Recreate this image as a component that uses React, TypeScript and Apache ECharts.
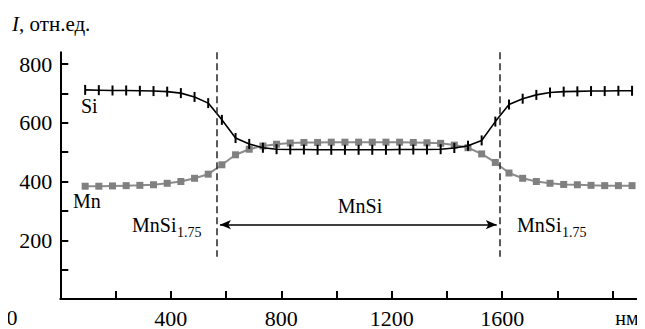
import { useEffect, useRef } from 'react';
import * as echarts from 'echarts';

// depth positions, nm
const positionsNm = [
  90, 139.5, 189, 238.5, 288, 337.5, 387, 436.5, 486, 535.5,
  585, 634.5, 684, 733.5, 783, 832.5, 882, 931.5, 981, 1030.5,
  1080, 1129.5, 1179, 1228.5, 1278, 1327.5, 1377, 1426.5, 1476, 1525.5,
  1575, 1624.5, 1674, 1723.5, 1773, 1822.5, 1872, 1921.5, 1971, 2020.5, 2070,
];
// intensity, rel. units
const siValues = [
  712, 711, 710, 710, 709, 708, 706, 701, 688, 667,
  610, 548, 528, 515, 510, 509, 509, 508, 508, 508,
  508, 508, 508, 509, 509, 509, 510, 514, 522, 540,
  604, 662, 682, 695, 703, 706, 707, 708, 708, 709, 709,
];
const mnValues = [
  384, 384, 385, 386, 387, 389, 394, 400, 411, 425,
  457, 491, 510, 521, 527, 531, 533, 533, 534, 534,
  534, 534, 534, 534, 533, 532, 530, 524, 515, 494,
  465, 429, 411, 400, 394, 390, 389, 387, 386, 386, 386,
];
const yTickValues = [100, 200, 300, 400, 500, 600, 700, 800];
const yLabelValues = [200, 400, 600, 800];
const xTickValues = [200, 400, 600, 800, 1000, 1200, 1400, 1600, 1800, 2000];
const xLabelValues = [400, 800, 1200, 1600];
const boundariesNm = [566, 1590];
const boundaryRange = [144, 840];
const arrowSpan = [578, 1580];
const arrowLevel = 253;

const FONT = 'Liberation Serif';

export default function App() {
  const ref = useRef<HTMLDivElement>(null);
  useEffect(() => {
    if (!ref.current) return;
    const chart = echarts.init(ref.current, undefined, { renderer: 'svg' });
    const siData = positionsNm.map((x, i) => [x, siValues[i]]);
    const mnData = positionsNm.map((x, i) => [x, mnValues[i]]);
    const axisCommon = {
      axisLine: { show: true, lineStyle: { color: '#000', width: 2 } },
      splitLine: { show: false },
    };
    const txt = (text: string, x: number, y: number, size: number, align = 'left') => ({
      type: 'text', x, y,
      style: { text, fontFamily: FONT, fontSize: size, fill: '#000', align, verticalAlign: 'middle' },
    });
    chart.setOption({
      animation: false,
      grid: { left: 60.3, right: 1.9, top: 52.3, bottom: 29.7 },
      xAxis: {
        type: 'value',
        min: 0,
        max: 2110,
        ...axisCommon,
        axisTick: { show: true, inside: true, length: 8, lineStyle: { color: '#000', width: 2 }, customValues: xTickValues },
        axisLabel: {
          customValues: xLabelValues, color: '#000', fontFamily: FONT, fontSize: 22, margin: 8,
          formatter: (v: number) => String(v),
        },
      },
      yAxis: {
        type: 'value',
        min: 0,
        max: 840,
        ...axisCommon,
        axisTick: { show: true, inside: true, length: 8, lineStyle: { color: '#000', width: 2 }, customValues: yTickValues },
        axisLabel: {
          customValues: yLabelValues, color: '#000', fontFamily: FONT, fontSize: 22, margin: 8,
          formatter: (v: number) => String(v),
        },
      },
      series: [
        {
          name: 'Si',
          type: 'line',
          data: siData,
          symbol: 'rect',
          symbolSize: [2, 10],
          itemStyle: { color: '#000' },
          lineStyle: { color: '#000', width: 1.6 },
          z: 3,
          markLine: {
            silent: true,
            symbol: 'none',
            label: { show: false },
            lineStyle: { color: '#333', width: 1.6, type: [7, 4] },
            data: boundariesNm.map((b) => [
              { coord: [b, boundaryRange[1]] },
              { coord: [b, boundaryRange[0]] },
            ]),
          },
        },
        {
          name: 'Mn',
          type: 'line',
          data: mnData,
          symbol: 'rect',
          symbolSize: 7,
          itemStyle: { color: '#808080' },
          lineStyle: { color: '#8c8c8c', width: 2 },
          z: 2,
          markLine: {
            silent: true,
            symbol: ['arrow', 'arrow'],
            symbolSize: [7, 11],
            label: { show: false },
            lineStyle: { color: '#000', width: 1.5, type: 'solid' },
            data: [[{ coord: [arrowSpan[0], arrowLevel] }, { coord: [arrowSpan[1], arrowLevel] }]],
          },
        },
      ],
      graphic: [
        txt('0', 12, 317, 22, 'center'),
        txt('нм', 627, 318, 20, 'center'),
        txt('Si', 81, 106, 20),
        txt('Mn', 73, 201, 20),
        txt('MnSi', 360, 206, 20, 'center'),
        txt('MnSi', 132, 225, 20),
        txt('1.75', 177, 232, 14),
        txt('MnSi', 517, 225, 20),
        txt('1.75', 562, 232, 14),
      ],
    });
    return () => chart.dispose();
  }, []);
  return (
    <div style={{ position: 'relative', width: 645, height: 329, margin: '-8px 0 0 -8px' }}>
      <div ref={ref} style={{ width: 645, height: 329 }} />
      <div
        style={{
          position: 'absolute', left: 12, top: 12, fontFamily: FONT, fontSize: 21,
          lineHeight: '24px', color: '#000', whiteSpace: 'nowrap',
        }}
      >
        <i>I</i>, отн.ед.
      </div>
    </div>
  );
}
